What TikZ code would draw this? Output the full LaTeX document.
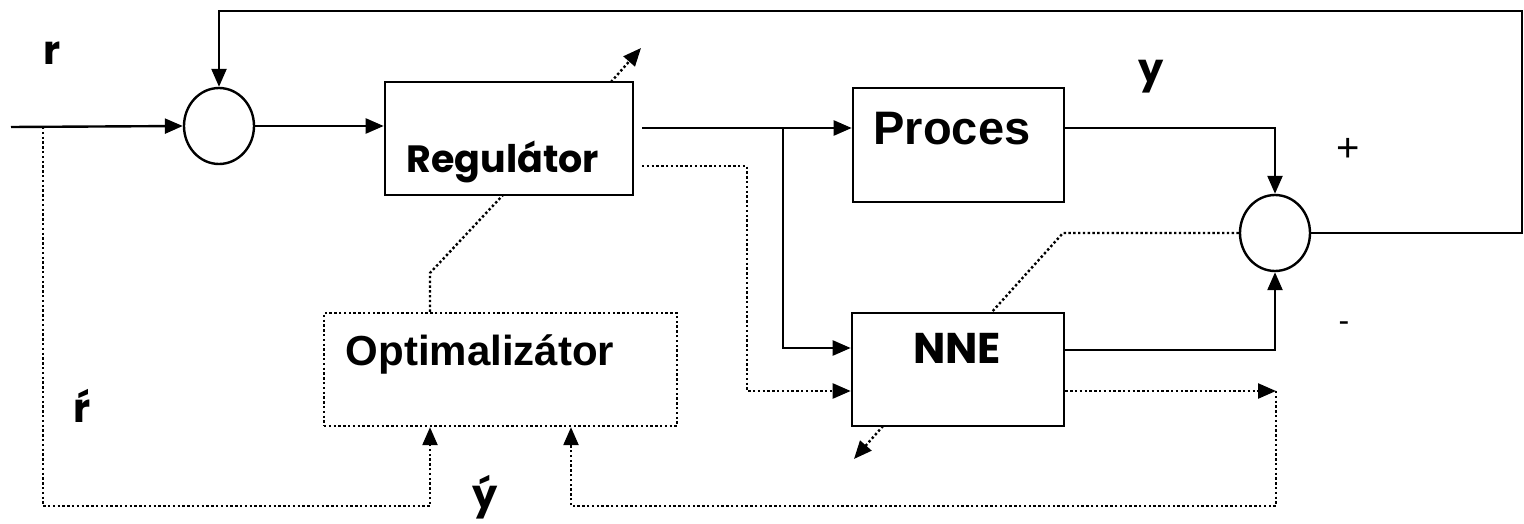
\documentclass[tikz,border=0pt]{standalone}
\usepackage{fontspec}
\setmainfont{Liberation Sans}
\newfontfamily\handfont{Poppins}
\usetikzlibrary{arrows.meta,shapes.geometric,calc}

\begin{document}
\begin{tikzpicture}[x=1pt,y=-1pt,
  line width=2.4pt,
  tip/.style={-{Triangle[length=18pt,width=15pt]}},
  dots/.style={line width=2.4pt,dash pattern=on 2.4pt off 2.4pt},
  block/.style={draw,rectangle,inner sep=0pt,line width=2.6pt},
  summer/.style={draw,ellipse,inner sep=0pt,minimum width=70pt,minimum height=76pt,line width=2.4pt},
  hand/.style={font=\handfont\bfseries,inner sep=0pt,anchor=base},
  arial/.style={font=\bfseries,inner sep=0pt,anchor=base},
]
\fill[white] (0,0) rectangle (1524,524);
\useasboundingbox (0,0) rectangle (1524,524);

% blocks
\node[block,minimum width=248pt,minimum height=113pt] (reg) at (509,138.5) {};
\node[block,minimum width=211pt,minimum height=114pt] (proc) at (958.5,145) {};
\node[block,minimum width=212pt,minimum height=113pt] (nne) at (958,369.5) {};
\node[block,dots,minimum width=353pt,minimum height=113pt] (opt) at (500.5,369.5) {};

% summing junctions
\node[summer] (sum1) at (219,126) {};
\node[summer] (sum2) at (1275,233) {};

% texts
\node[hand,font=\handfont\bfseries\fontsize{38}{38}\selectfont] (tReg) at (503,172) {Regulátor};
\node[arial,font=\bfseries\fontsize{47}{47}\selectfont] (tProc) at (952,145) {Proces};
\node[hand,font=\handfont\bfseries\fontsize{43}{43}\selectfont] (tNNE) at (957,363) {NNE};
\node[arial,font=\bfseries\fontsize{42}{42}\selectfont] (tOpt) at (480,365) {Optimalizátor};
\node[hand,font=\handfont\bfseries\fontsize{40}{40}\selectfont] (tr) at (52,65) {r};
\node[hand,font=\handfont\bfseries\fontsize{40}{40}\selectfont] (ty) at (1151,83) {y};
\node[hand,font=\handfont\bfseries\fontsize{40}{40}\selectfont] (tr2) at (82,422) {ŕ};
\node[hand,font=\handfont\bfseries\fontsize{40}{40}\selectfont] (ty2) at (485,508) {ý};
\node[inner sep=0pt,font=\fontsize{40}{40}\selectfont] (tplus) at (1348,150) {+};
\node[inner sep=0pt,font=\fontsize{32}{32}\selectfont] (tminus) at (1344,327) {-};

% junction and bend points
\coordinate (rin) at (11,127);
\coordinate (uo) at (642,128);
\coordinate (br) at (783,128);
\coordinate (brl) at (783,348);
\coordinate (yo) at (1275,128);
\coordinate (no) at (1275,350);
\coordinate (fbr) at (1522,11);
\coordinate (rdo) at (642,166);
\coordinate (pd) at (747,391);
\coordinate (ed) at (1276,391);
\coordinate (eb) at (571,506);
\coordinate (rb) at (43,127);
\coordinate (rc) at (430,506);
\coordinate (ok) at (430,273);
\coordinate (rk) at (503,195);
\coordinate (ra) at (611,82);
\coordinate (rt) at (641,48);
\coordinate (na) at (883,426);
\coordinate (nt) at (854,459);
\coordinate (sk) at (1063,233);
\coordinate (nk) at (991,313);

% signal paths
\draw[tip] (rin) -- (sum1.west);
\draw[tip] (sum1.east) -- (sum1.east -| reg.west);
\draw[tip] (uo) -- (uo -| proc.west);
\draw[tip] (br) -- (brl) -- (brl -| nne.west);
\draw[tip] (proc.east |- yo) -- (yo) -- (sum2.north);
\draw[tip] (nne.east |- no) -- (no) -- (sum2.south);
\draw[tip] (sum2.east) -| (fbr) -| (sum1.north);

% adaptation paths
\draw[dots,tip] (rdo) -| (pd) -- (pd -| nne.west);
\draw[dots,tip] (nne.east |- pd) -- (ed);
\draw[dots,tip] (ed) |- (eb) -- (eb |- opt.south);
\draw[dots,tip] (rb) |- (rc) -- (rc |- opt.south);
\draw[dots] (rc |- opt.north) -- (ok) -- (rk);
\draw[dots,tip] (ra) -- (rt);
\draw[dots,tip] (na) -- (nt);
\draw[dots] (sum2.west) -- (sk) -- (nk);
\end{tikzpicture}
\end{document}
